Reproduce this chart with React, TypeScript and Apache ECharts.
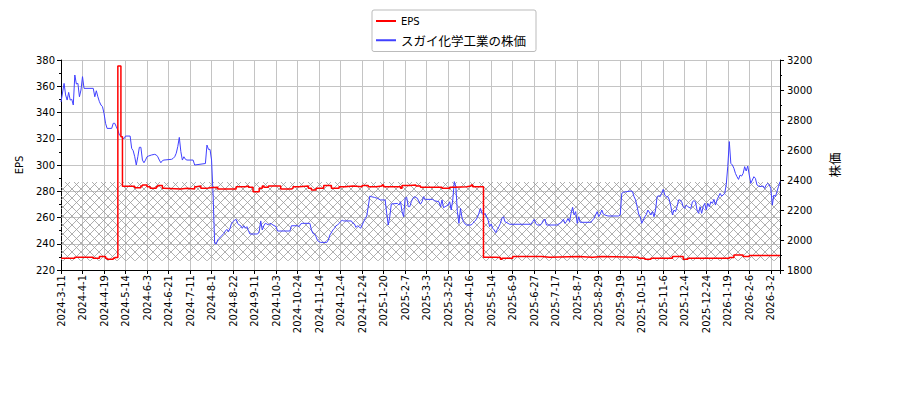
import React, { useEffect, useRef } from 'react';
import * as echarts from 'echarts';

// x is the trading-day index, one tick label every 14 days
const tickLabels = [
  '2024-3-11', '2024-4-1', '2024-4-19', '2024-5-14', '2024-6-3', '2024-6-21', '2024-7-11',
  '2024-8-1', '2024-8-22', '2024-9-11', '2024-10-3', '2024-10-24', '2024-11-14', '2024-12-4',
  '2024-12-24', '2025-1-20', '2025-2-7', '2025-3-3', '2025-3-25', '2025-4-16', '2025-5-14',
  '2025-6-9', '2025-6-27', '2025-7-17', '2025-8-7', '2025-8-29', '2025-9-19', '2025-10-15',
  '2025-11-6', '2025-12-4', '2025-12-24', '2026-1-19', '2026-2-6', '2026-3-2',
];
const TICK_STEP = 14;
const LAST_DAY = 468;

// EPS, [day, value] where the value changes
const epsSteps = [
  [0, 228.9], [9, 229.7], [21, 228.9], [25, 230.2], [29, 228.9], [30, 228.1], [34, 228.9],
  [35, 229.5], [37, 375.4], [39, 321.6], [40, 283.8], [48, 282.7], [52, 284], [53, 284.8],
  [56, 283.5], [58, 282.2], [62, 283.5], [63, 284.3], [66, 282.2], [67, 281.7], [78, 282.2],
  [82, 281.7], [87, 283.5], [88, 284], [91, 282.2], [95, 282.7], [97, 283], [102, 281.7],
  [114, 283.5], [120, 284], [122, 283], [125, 279.7], [129, 282.2], [131, 284], [132, 283],
  [135, 284], [143, 281.7], [150, 282.2], [151, 283.5], [155, 284], [161, 282.2], [163, 281],
  [166, 282.2], [171, 284.3], [176, 282.2], [181, 283.5], [185, 284], [190, 283.5], [196, 284.3],
  [200, 283.5], [205, 284], [209, 284.8], [210, 283.5], [221, 282.2], [222, 284.3], [227, 284.8],
  [231, 284], [234, 283], [248, 282.2], [253, 283], [256, 283.5], [264, 284], [267, 284.8],
  [268, 283.5], [275, 229.7], [283, 229.5], [286, 228.1], [287, 228.9], [294, 230.2],
  [313, 229.7], [318, 230.2], [337, 229.7], [346, 230.2], [352, 229.7], [376, 228.9],
  [380, 228.1], [384, 228.9], [398, 230.2], [405, 228.1], [408, 228.9], [435, 229.5],
  [438, 231.4], [444, 230.2], [448, 231], [468, 231],
];

// share price, [day, yen]
const pricePoints = [
  [0, 2920], [2, 3044], [3, 2967], [4, 2933], [5, 2984], [6, 2933], [7, 2938], [8, 2900],
  [9, 3100], [10, 3040], [11, 3044], [12, 2955], [13, 3000], [14, 3089], [15, 3011], [21, 3011],
  [22, 2955], [23, 2995], [24, 2955], [25, 2922], [26, 2900], [27, 2889], [28, 2844], [29, 2778],
  [30, 2744], [33, 2744], [34, 2778], [35, 2778], [36, 2755], [37, 2733], [38, 2700], [39, 2693],
  [40, 2684], [41, 2675], [42, 2693], [45, 2693], [46, 2611], [47, 2595], [48, 2555], [49, 2500],
  [50, 2555], [51, 2618], [52, 2618], [53, 2533], [54, 2515], [55, 2533], [56, 2555], [57, 2560],
  [59, 2567], [61, 2571], [62, 2567], [63, 2555], [64, 2533], [65, 2515], [66, 2529], [67, 2533],
  [72, 2538], [73, 2544], [74, 2555], [75, 2578], [76, 2622], [77, 2684], [78, 2590], [79, 2533],
  [80, 2555], [81, 2538], [82, 2533], [86, 2533], [87, 2500], [94, 2510], [95, 2633], [96, 2604],
  [97, 2604], [98, 2533], [99, 2300], [100, 1978], [101, 1973], [102, 2000], [103, 2011],
  [104, 2022], [105, 2033], [106, 2044], [107, 2060], [108, 2071], [109, 2055], [110, 2077],
  [111, 2111], [112, 2122], [113, 2133], [114, 2137], [115, 2111], [116, 2100], [117, 2095],
  [118, 2078], [119, 2095], [120, 2078], [121, 2089], [122, 2062], [123, 2040], [128, 2040],
  [129, 2055], [130, 2127], [131, 2067], [132, 2095], [133, 2111], [134, 2107], [135, 2100],
  [136, 2111], [137, 2107], [138, 2100], [140, 2089], [141, 2060], [149, 2060], [150, 2095],
  [154, 2095], [155, 2089], [156, 2107], [157, 2111], [162, 2111], [163, 2067], [164, 2044],
  [165, 2040], [166, 2022], [167, 1996], [168, 1989], [169, 1984], [173, 1984], [174, 2000],
  [175, 2033], [177, 2067], [178, 2078], [179, 2095], [180, 2100], [181, 2111], [182, 2122],
  [183, 2133], [184, 2127], [189, 2127], [190, 2111], [191, 2107], [192, 2084], [193, 2095],
  [194, 2089], [195, 2078], [196, 2100], [197, 2122], [198, 2144], [199, 2160], [200, 2222],
  [201, 2293], [202, 2289], [204, 2284], [206, 2278], [208, 2267], [211, 2267], [212, 2178],
  [213, 2100], [214, 2155], [215, 2240], [219, 2244], [220, 2233], [221, 2255], [222, 2189],
  [223, 2155], [224, 2278], [225, 2285], [226, 2222], [227, 2222], [228, 2255], [229, 2278],
  [230, 2289], [232, 2278], [233, 2255], [234, 2240], [235, 2255], [236, 2289], [237, 2271],
  [242, 2271], [243, 2262], [246, 2255], [247, 2222], [248, 2267], [249, 2215], [250, 2222],
  [252, 2233], [253, 2255], [254, 2200], [255, 2267], [256, 2389], [257, 2355], [258, 2189],
  [259, 2111], [260, 2211], [261, 2150], [262, 2122], [263, 2107], [264, 2100], [267, 2100],
  [268, 2111], [269, 2122], [270, 2133], [271, 2150], [272, 2178], [273, 2211], [274, 2178],
  [275, 2167], [276, 2178], [278, 2133], [279, 2089], [280, 2107], [281, 2078], [282, 2067],
  [283, 2049], [284, 2071], [285, 2089], [286, 2111], [287, 2144], [288, 2155], [289, 2122],
  [291, 2111], [292, 2105], [306, 2105], [307, 2122], [308, 2138], [309, 2111], [310, 2100],
  [312, 2100], [313, 2111], [314, 2133], [315, 2138], [316, 2100], [323, 2100], [324, 2107],
  [325, 2111], [326, 2122], [327, 2138], [328, 2111], [329, 2122], [330, 2144], [331, 2122],
  [332, 2178], [333, 2218], [334, 2167], [335, 2189], [336, 2111], [337, 2155], [338, 2118],
  [345, 2118], [346, 2133], [347, 2144], [348, 2167], [349, 2189], [350, 2155], [351, 2173],
  [352, 2200], [353, 2173], [354, 2167], [356, 2160], [363, 2160], [364, 2167], [365, 2311],
  [366, 2318], [368, 2322], [371, 2327], [372, 2322], [373, 2289], [374, 2267], [375, 2222],
  [376, 2173], [377, 2155], [378, 2111], [379, 2133], [380, 2155], [381, 2170], [382, 2200],
  [384, 2167], [385, 2189], [386, 2155], [387, 2200], [388, 2289], [389, 2295], [390, 2289],
  [391, 2311], [392, 2338], [393, 2300], [394, 2289], [395, 2289], [396, 2267], [397, 2222],
  [398, 2167], [399, 2200], [400, 2189], [401, 2222], [402, 2267], [403, 2267], [404, 2255],
  [405, 2222], [406, 2211], [407, 2233], [408, 2222], [410, 2211], [411, 2255], [412, 2262],
  [413, 2255], [414, 2200], [415, 2178], [416, 2222], [417, 2178], [418, 2222], [419, 2244],
  [420, 2200], [421, 2244], [422, 2222], [423, 2255], [424, 2244], [425, 2271], [426, 2233],
  [427, 2267], [429, 2311], [430, 2293], [431, 2300], [432, 2311], [433, 2367], [434, 2489],
  [435, 2656], [436, 2511], [437, 2500], [438, 2478], [439, 2444], [440, 2422], [441, 2404],
  [442, 2433], [443, 2426], [444, 2444], [445, 2489], [446, 2460], [447, 2493], [448, 2433],
  [449, 2378], [450, 2400], [451, 2422], [452, 2411], [453, 2367], [454, 2360], [455, 2356],
  [457, 2360], [458, 2344], [459, 2367], [460, 2378], [461, 2367], [462, 2344], [463, 2233],
  [464, 2300], [465, 2289], [466, 2322], [467, 2356], [468, 2389],
];

// hatched band, in EPS units
const bandRange = [227, 287];

const FONT = "'DejaVu Sans', 'Noto Sans CJK JP', sans-serif";
const JP_FONT = "'Noto Sans CJK JP', sans-serif";

const hatchTile =
  "data:image/svg+xml;charset=utf-8," +
  encodeURIComponent(
    "<svg xmlns='http://www.w3.org/2000/svg' width='9' height='9'>" +
      "<path d='M0 0L9 9M9 0L0 9' stroke='#9a9a9a' stroke-width='0.8' fill='none'/></svg>"
  );

export default function App() {
  const chartRef = useRef<HTMLDivElement>(null);

  useEffect(() => {
    if (!chartRef.current) return;
    const chart = echarts.init(chartRef.current, null, { renderer: 'svg' });

    const axisText = { color: '#000', fontSize: 10, fontFamily: FONT };

    chart.setOption({
      animation: false,
      textStyle: { fontFamily: FONT },
      legend: {
        orient: 'vertical',
        left: 372,
        top: 10,
        padding: [6, 10, 5, 4],
        itemGap: 8,
        itemWidth: 20,
        itemHeight: 2,
        icon: 'rect',
        borderColor: '#bbbbbb',
        borderWidth: 1,
        borderRadius: 2,
        backgroundColor: '#fff',
        textStyle: { color: '#000', fontSize: 10, fontFamily: FONT, rich: { j: { fontSize: 12.5, fontFamily: JP_FONT } } },
        formatter: (name: string) => (name === 'EPS' ? name : `{j|${name}}`),
        data: ['EPS', 'スガイ化学工業の株価'],
      },
      grid: { left: 61, right: 120, top: 60, bottom: 130, outerBoundsMode: 'none' },
      xAxis: {
        type: 'value',
        min: 0,
        max: LAST_DAY,
        interval: TICK_STEP,
        axisLine: { show: true, lineStyle: { color: '#000', width: 1 } },
        axisTick: { show: true, length: 4, lineStyle: { color: '#000' } },
        axisLabel: {
          ...axisText,
          rotate: 90,
          margin: 5,
          showMaxLabel: true,
          formatter: (v: number) => (v % TICK_STEP === 0 ? tickLabels[v / TICK_STEP] ?? '' : ''),
        },
        splitLine: { show: true, lineStyle: { color: '#c4c4c4', width: 1 } },
      },
      yAxis: [
        {
          type: 'value',
          min: 220,
          max: 380,
          interval: 20,
          name: 'EPS',
          nameLocation: 'middle',
          nameGap: 37,
          nameRotate: 90,
          nameTextStyle: { ...axisText, fontSize: 10 },
          axisLine: { show: true, lineStyle: { color: '#000' } },
          axisTick: { show: true, length: 4, lineStyle: { color: '#000' } },
          minorTick: { show: true, splitNumber: 2, length: 2, lineStyle: { color: '#000' } },
          axisLabel: { ...axisText, margin: 6 },
          splitLine: { show: true, lineStyle: { color: '#c4c4c4', width: 1 } },
        },
        {
          type: 'value',
          min: 1800,
          max: 3200,
          interval: 200,
          name: '株価',
          nameLocation: 'middle',
          nameGap: 48,
          nameRotate: 90,
          nameTextStyle: { color: '#000', fontSize: 12.5, fontFamily: JP_FONT },
          axisLine: { show: true, lineStyle: { color: '#000' } },
          axisTick: { show: true, length: 4, lineStyle: { color: '#000' } },
          minorTick: { show: true, splitNumber: 2, length: 2, lineStyle: { color: '#000' } },
          axisLabel: { ...axisText, margin: 7, formatter: (v: number) => String(v) },
          splitLine: { show: false },
        },
      ],
      series: [
        {
          name: 'EPS',
          type: 'line',
          yAxisIndex: 0,
          step: 'end',
          symbol: 'none',
          data: epsSteps,
          lineStyle: { color: '#ff0000', width: 1.5 },
          itemStyle: { color: '#ff0000' },
          z: 3,
          markArea: {
            silent: true,
            itemStyle: {
              color: { image: hatchTile, repeat: 'repeat', imageWidth: 9, imageHeight: 9 },
            },
            data: [[{ xAxis: 0, yAxis: bandRange[0] }, { xAxis: LAST_DAY, yAxis: bandRange[1] }]],
          },
        },
        {
          name: 'スガイ化学工業の株価',
          type: 'line',
          yAxisIndex: 1,
          symbol: 'none',
          data: pricePoints,
          lineStyle: { color: '#4040ff', width: 1 },
          itemStyle: { color: '#4040ff' },
          z: 2,
        },
      ],
    });

    return () => {
      chart.dispose();
    };
  }, []);

  return (
    <div
      ref={chartRef}
      style={{ position: 'fixed', left: 0, top: 0, width: '900px', height: '400px', background: '#fff' }}
    />
  );
}
